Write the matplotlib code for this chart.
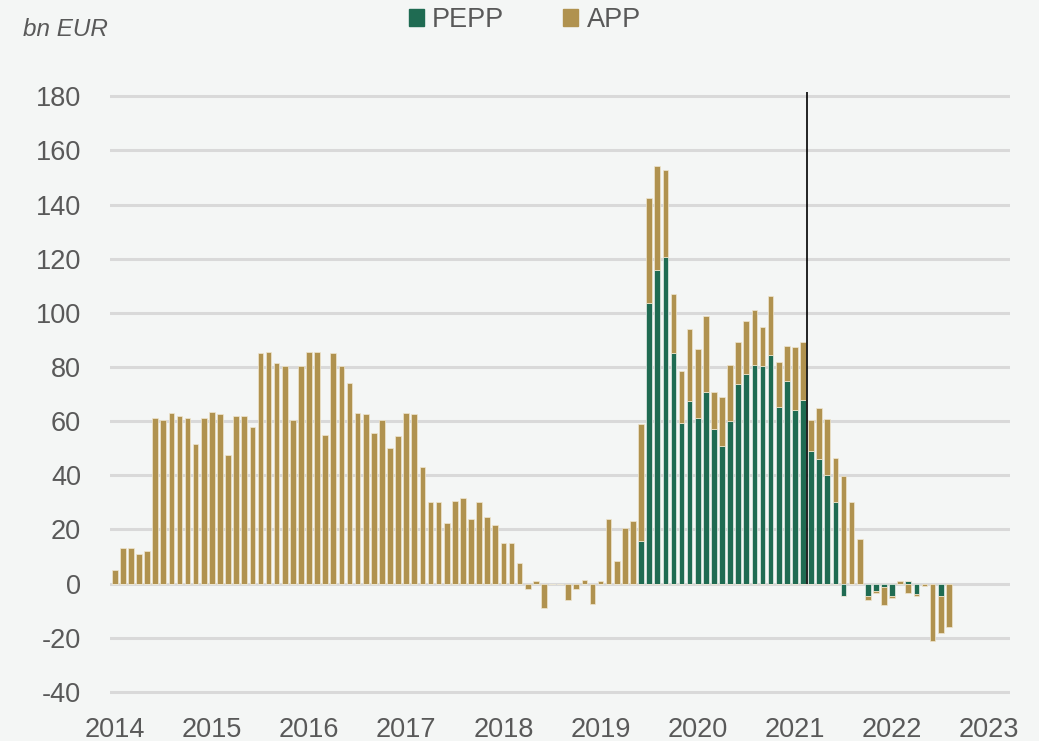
import matplotlib.pyplot as plt
import numpy as np
from matplotlib.patches import Patch

# monthly net purchases, bn EUR, Oct 2014 .. May 2023
app = [5, 13, 13, 11, 12, 61, 60.5, 63, 62, 61, 51.5, 61, 63.5,
       62.5, 47.5, 62, 62, 58, 85, 85.5, 81.5, 80.5, 60.5, 80.5, 85.5,
       85.5, 55, 85, 80.5, 74, 63, 62.5, 55.5, 60.5, 50, 54.5, 63,
       62.5, 43, 30, 30, 22.5, 30.5, 31.5, 24, 30, 24.5, 21.5, 15,
       15, 7.5, -2, 1, -9, 0, 0, -6, -2, 1.5, -7.5, 1, 24,
       8.5, 20.5, 23, 43.4, 38.8, 38.3, 32.1, 21.8, 19, 26.5, 25.6, 27.8,
       13.6, 18, 20.8, 15.6, 19.4, 20.3, 14.6, 21.7, 16.5, 12.9, 23.1, 21.2,
       11.3, 18.8, 20.7, 16.2, 39.7, 30.1, 16.5, -1.3, -0.5, -6.6, -0.6, 1.1,
       -3.3, -0.9, -1.0, -21.3, -13.7, -16.0]
pepp = [0, 0, 0, 0, 0, 0, 0, 0, 0, 0, 0, 0, 0,
        0, 0, 0, 0, 0, 0, 0, 0, 0, 0, 0, 0,
        0, 0, 0, 0, 0, 0, 0, 0, 0, 0, 0, 0,
        0, 0, 0, 0, 0, 0, 0, 0, 0, 0, 0, 0,
        0, 0, 0, 0, 0, 0, 0, 0, 0, 0, 0, 0, 0,
        0, 0, 0, 15.6, 103.5, 115.8, 120.5, 85.1, 59.5, 67.6, 61.0, 70.9,
        57.2, 51.0, 60.0, 73.7, 77.5, 80.8, 80.3, 84.6, 65.3, 75.0, 64.2, 68.0,
        49.1, 45.9, 40.2, 30.2, -4.7, 0, 0, -4.7, -2.8, -1.4, -4.7, 0,
        1.1, -3.8, 0, 0, -4.7, 0]
year_labels = ['2014', '2015', '2016', '2017', '2018', '2019', '2020', '2021', '2022', '2023']
vline_pos = 85.5   # marker between Nov and Dec 2021
vline_top = 181.5

green = '#1f6b52'
tan = '#b0924f'
grey_txt = '#595959'
bg = '#f4f6f5'

plt.rcParams['font.family'] = ['Liberation Sans', 'DejaVu Sans']
plt.rcParams['axes.unicode_minus'] = False

app = np.array(app)
pepp = np.array(pepp)
x = np.arange(len(app))

# positive and negative parts stack separately
pepp_pos = np.clip(pepp, 0, None)
pepp_neg = np.clip(pepp, None, 0)
app_pos = np.clip(app, 0, None)
app_neg = np.clip(app, None, 0)

fig = plt.figure(figsize=(10.39, 7.41), dpi=100, facecolor=bg)
ax = fig.add_axes([0.106, 0.0625, 0.866, 0.815])
ax.set_facecolor(bg)

w = 0.7
ax.bar(x, pepp_pos, w, color=green, edgecolor='#e8efe9', linewidth=0.5, zorder=3)
ax.bar(x, app_pos, w, bottom=pepp_pos, color=tan, edgecolor='#f0e6cf', linewidth=0.5, zorder=3)
ax.bar(x, pepp_neg, w, color=green, edgecolor='#e8efe9', linewidth=0.5, zorder=3)
ax.bar(x, app_neg, w, bottom=pepp_neg, color=tan, edgecolor='#f0e6cf', linewidth=0.5, zorder=3)

ax.vlines(vline_pos, 0, vline_top, color='black', linewidth=1.2, zorder=4)

ax.set_xlim(-0.56, 110.55)
ax.set_ylim(-41, 182)
ax.set_yticks(np.arange(-40, 181, 20))
ax.set_xticks(np.arange(len(year_labels)) * 12)
ax.set_xticklabels(year_labels)
ax.grid(axis='y', color='#d9d9d9', linewidth=2.2, zorder=0)
ax.grid(axis='x', visible=False)
for s in ax.spines.values():
    s.set_visible(False)
ax.tick_params(axis='y', length=0, pad=21, labelsize=19.5, labelcolor=grey_txt)
ax.tick_params(axis='x', length=0, pad=16, labelsize=19.5, labelcolor=grey_txt)

handles = [Patch(color=green, label='PEPP'), Patch(color=tan, label='APP')]
fig.legend(handles=handles, loc='center', bbox_to_anchor=(0.505, 0.973), ncol=2,
           frameon=False, fontsize=19.5, labelcolor=grey_txt,
           handlelength=0.55, handleheight=0.55, handletextpad=0.3, columnspacing=2.2)

fig.text(0.022, 0.9605, 'bn EUR', fontsize=17.5, style='italic', color=grey_txt, va='center')

fig.savefig('out.png', dpi=100, facecolor=bg)
